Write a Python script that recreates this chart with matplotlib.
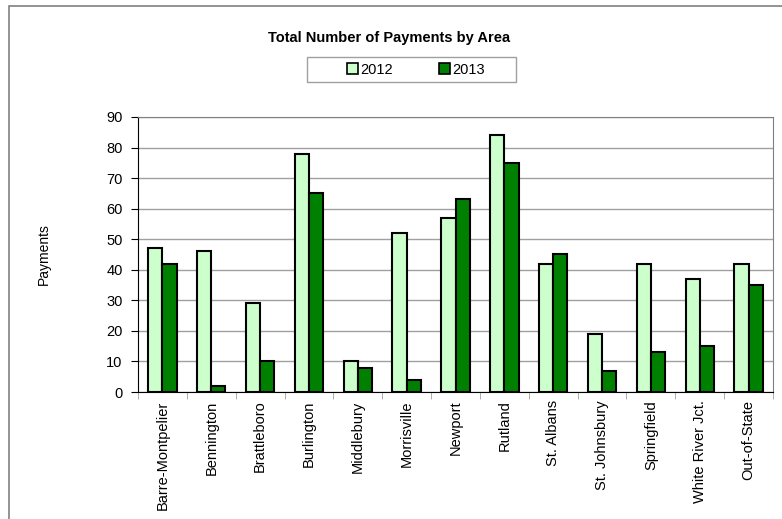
import numpy as np
import matplotlib.pyplot as plt
from matplotlib.patches import Rectangle, Patch

plt.rcParams['font.family'] = ['Liberation Sans', 'DejaVu Sans']

# payments per area, two years
areas = ['Barre-Montpelier', 'Bennington', 'Brattleboro', 'Burlington', 'Middlebury',
         'Morrisville', 'Newport', 'Rutland', 'St. Albans', 'St. Johnsbury',
         'Springfield', 'White River Jct.', 'Out-of-State']
pay_2012 = [47, 46, 29, 78, 10, 52, 57, 84, 42, 19, 42, 37, 42]
pay_2013 = [42, 2, 10, 65, 8, 4, 63, 75, 45, 7, 13, 15, 35]

W, H = 782, 519
fig = plt.figure(figsize=(W / 100, H / 100), dpi=100)

# outer chart frame
fig.patches.append(Rectangle((9 / W, -0.1), 1.0, 1 - 6 / H + 0.1, transform=fig.transFigure,
                             fill=False, edgecolor='#808080', linewidth=1.2))

ax = fig.add_axes([138 / W, 1 - 392 / H, (773 - 138) / W, (392 - 117) / H])

x = np.arange(len(areas))
bw = 0.29
ax.bar(x - bw / 2, pay_2012, bw, color='#ccffcc', edgecolor='black', linewidth=1.5, zorder=3)
ax.bar(x + bw / 2, pay_2013, bw, color='#008000', edgecolor='black', linewidth=1.5, zorder=3)

ax.set_xlim(-0.5, len(areas) - 0.5)
ax.set_ylim(0, 90)
ax.set_yticks(range(0, 91, 10))
ax.yaxis.grid(True, color='#a0a0a0', linewidth=1.0, zorder=0)
ax.tick_params(axis='y', labelsize=10.5, length=5, width=0.8, pad=6)

ax.set_xticks(x)
ax.set_xticklabels(areas, rotation=90, fontsize=10.5)
ax.set_xticks(np.arange(-0.5, len(areas)), minor=True)
ax.tick_params(axis='x', which='major', length=0, pad=6)
ax.tick_params(axis='x', which='minor', length=5, color='#a0a0a0')

ax.spines['top'].set_color('#808080')
ax.spines['right'].set_color('#808080')
ax.spines['left'].set_color('black')
ax.spines['bottom'].set_color('black')

ax.set_ylabel('Payments', fontsize=10, labelpad=40)

fig.text(389 / W, 1 - 38 / H, 'Total Number of Payments by Area', ha='center', va='center',
         fontsize=10.5, fontweight='bold')

# legend box with two entries
fig.patches.append(Rectangle((307 / W, 1 - 82 / H), 209 / W, 25 / H, transform=fig.transFigure,
                             fill=False, edgecolor='#a0a0a0', linewidth=1.0))
handles = [Patch(facecolor='#ccffcc', edgecolor='black', linewidth=1.2, label='2012'),
           Patch(facecolor='#008000', edgecolor='black', linewidth=1.2, label='2013')]
fig.legend(handles=handles, loc='center', bbox_to_anchor=(416 / W, 1 - 69.5 / H), ncol=2,
           fontsize=10.5, frameon=False, handlelength=0.75, handleheight=0.75,
           handletextpad=0.15, columnspacing=3.2)

fig.savefig('out.png', dpi=100)
